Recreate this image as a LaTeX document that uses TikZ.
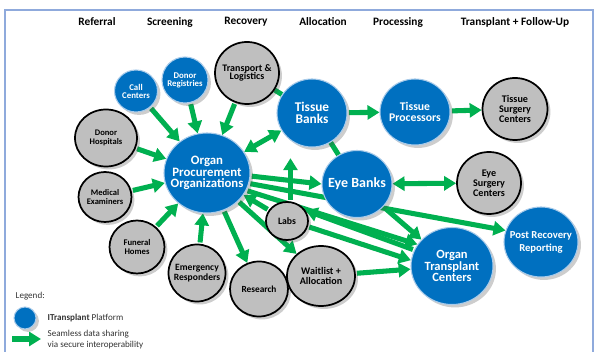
\documentclass[tikz,border=0pt]{standalone}
\usepackage{fontspec}
\setmainfont{Carlito}
\usetikzlibrary{arrows.meta,shapes.geometric,shadows,backgrounds}

\definecolor{itblue}{HTML}{0070C0}
\definecolor{itring}{HTML}{A9CBEA}
\definecolor{itgray}{HTML}{BFBFBF}
\definecolor{itgreen}{HTML}{00B050}
\definecolor{itframe}{HTML}{8FAADC}

% centred stack of lines that takes no width (node size comes from sz)
\newcommand{\lbl}[1]{\makebox[0pt]{\vbox{\lineskiplimit=-10pt\let\\\cr
  \halign{\hfil##\hfil\cr#1\crcr}}}}

\tikzset{
  sz/.style 2 args={minimum width=#1*0.75pt, minimum height=#2*0.75pt},
  fs/.style 2 args={font=\fontsize{#1}{#2}\selectfont\bfseries},
  softshadow/.style={drop shadow={shadow xshift=2.2pt, shadow yshift=-2.2pt,
      opacity=0.28, fill=black!70}},
  platform/.style={ellipse, inner sep=0pt, fill=itblue, draw=itring,
      line width=0.8pt, text=white, softshadow},
  partner/.style={ellipse, inner sep=0pt, fill=itgray, draw=black,
      line width=1.3pt, text=black, softshadow},
  flow/.style={draw=itgreen, line width=3.8pt, shorten <=1pt,
      -{Triangle[length=9pt,width=10.5pt]}},
  twoway/.style={draw=itgreen, line width=3.8pt,
      {Triangle[length=9pt,width=10.5pt]}-{Triangle[length=9pt,width=10.5pt]}},
  link/.style={draw=itgreen, line width=3.8pt},
  stage/.style={font=\fontsize{8.5}{10}\selectfont\bfseries},
  legendtxt/.style={anchor=west, font=\fontsize{6.8}{8.2}\selectfont,
      text=black!80, align=left},
}

\begin{document}
\begin{tikzpicture}[x=0.75pt, y=-0.75pt]
\useasboundingbox (0,0) rectangle (596,352);
\draw[itframe, line width=0.8pt] (5,352) -- (5,10) -- (593,10) -- (593,352);

% Stages
\node[stage] (hRef) at ( 97,22) {Referral};
\node[stage] (hScr) at (170,22) {Screening};
\node[stage] (hRec) at (246,22) {Recovery};
\node[stage] (hAll) at (323,22) {Allocation};
\node[stage] (hPro) at (398,22) {Processing};
\node[stage] (hTra) at (515,22) {Transplant + Follow-Up};

% iTransplant platform
\node[platform, sz={86}{80}, fs={9.6}{8.6}]  (opo)    at (207,173) {\lbl{Organ\\Procurement\\Organizations}};
\node[platform, sz={43}{42}, fs={6.6}{6}]    (callc)  at (136,91)  {\lbl{Call\\Centers}};
\node[platform, sz={46}{46}, fs={6.6}{6}]    (donreg) at (185,80)  {\lbl{Donor\\Registries}};
\node[platform, sz={70}{68}, fs={10}{9.5}]   (tbanks) at (312,113) {\lbl{Tissue\\Banks}};
\node[platform, sz={70}{66}, fs={8.8}{8}]    (tproc)  at (415,112) {\lbl{Tissue\\Processors}};
\node[platform, sz={70}{67}, fs={10.5}{10}]  (eyeb)   at (357,184) {\lbl{Eye Banks}};
\node[platform, sz={82}{77}, fs={9.4}{8.8}]  (otc)    at (452,266) {\lbl{Organ\\Transplant\\Centers}};
\node[platform, sz={74}{70}, fs={8}{9.8}]    (prr)    at (541,242) {\lbl{Post Recovery\\Reporting}};

% Partners
\node[partner, sz={64}{62}, fs={7.5}{6}]   (transp)   at (247,73)  {\lbl{Transport \&\\Logistics}};
\node[partner, sz={62}{57}, fs={6.4}{7}]   (donhosp)  at (106,138) {\lbl{Donor\\Hospitals}};
\node[partner, sz={53}{50}, fs={6.4}{7}]   (medex)    at (105,197) {\lbl{Medical\\Examiners}};
\node[partner, sz={55}{53}, fs={6.5}{7}]   (funeral)  at (137,247) {\lbl{Funeral\\Homes}};
\node[partner, sz={57}{57}, fs={7.2}{8}]   (emerg)    at (197,273) {\lbl{Emergency\\Responders}};
\node[partner, sz={58}{55}, fs={7}{8}]     (research) at (259,289) {\lbl{Research}};
\node[partner, sz={68}{60}, fs={7.6}{7.5}] (waitlist) at (321,276) {\lbl{Waitlist +\\Allocation}};
\node[partner, sz={42}{38}, fs={7.3}{8}]   (labs)     at (287,221) {\lbl{Labs}};
\node[partner, sz={65}{62}, fs={7.6}{7.5}] (tsurg)    at (515,109) {\lbl{Tissue\\Surgery\\Centers}};
\node[partner, sz={64}{62}, fs={7.6}{7.5}] (eyesurg)  at (489,183) {\lbl{Eye\\Surgery\\Centers}};

% Legend
\node[legendtxt] (lgTitle) at (11,296) {Legend:};
\node[platform, sz={22}{22}] (lgDot) at (25,318) {};
\node[legendtxt] (lgDotTxt) at (43,318) {\textbf{ITransplant} Platform};
\coordinate (lgA) at (11,339);
\coordinate (lgB) at (41,339);
\node[legendtxt] (lgFlowTxt) at (43,340) {Seamless data sharing\\via secure interoperability};

\begin{scope}[on background layer]
% Into the OPO
\draw[flow] (callc) -- (opo);
\draw[flow] (donreg) -- (opo);
\draw[flow] (transp) -- (opo);
\draw[flow] (donhosp) -- (opo);
\draw[flow] (medex) -- (opo);
\draw[flow] (funeral) -- (opo);
\draw[flow] (emerg) -- (opo);
\draw[flow] (labs) -- (opo);

% Out of the OPO
\draw[twoway] (opo) -- (tbanks);
\draw[flow] (opo.-4) -- (eyeb.west);
\draw[flow] (opo.-14) -- (prr.162);
\draw[flow] (opo.-24) -- (otc.148);
\draw[flow] (opo) -- (research);
\draw[flow] (opo) -- (waitlist);

% Tissue and eye
\draw[link] (transp) -- (tbanks);
\draw[link] (tbanks) -- (eyeb);
\draw[flow] (tbanks) -- (tproc);
\draw[flow] (tproc) -- (tsurg);
\draw[twoway] (eyeb) -- (eyesurg);
\draw[flow] (eyeb) -- (otc);
\draw[flow, shorten >=8pt] (labs.80) -- (labs.80 |- tbanks.south);

% Transplant centres
\draw[flow] (otc.157) -- (labs.30);
\draw[flow] (labs.-15) -- (otc.172);
\draw[flow] (waitlist) -- (otc);

% Legend arrow
\draw[flow] (lgA) -- (lgB);
\end{scope}
\end{tikzpicture}
\end{document}
